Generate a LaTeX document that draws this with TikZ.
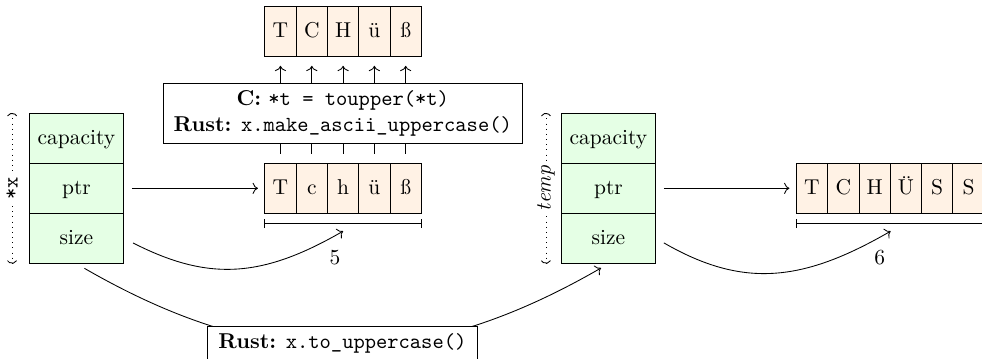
\documentclass[tikz,border=0pt]{standalone}
\usetikzlibrary{arrows.meta, calc}

\begin{document}
\begin{tikzpicture}[
    cell/.style={draw, fill=orange!10, minimum width=0.512cm, minimum height=0.8175cm,
      inner sep=0pt, text height=1.6ex, text depth=0.25ex},
    field/.style={draw, fill=green!10, minimum width=1.537cm, minimum height=0.8175cm,
      inner sep=0pt, text height=1.6ex, text depth=0.25ex},
    codebox/.style={draw, fill=white, align=center, inner xsep=5pt, inner ysep=3.3pt},
    span/.style={{Bar[width=4pt]}-{Bar[width=4pt]}},
    owner/.style={dotted, {Parenthesis}-{Parenthesis}},
  ]
  \useasboundingbox (0,0) rectangle (16.06,5.87);
  \clip (0,0) rectangle (16.06,5.87);

  % String x on the stack
  \node[field] (xcap) at (1.25, 3.608) {capacity};
  \node[field] (xptr) at (1.25, 2.79) {ptr};
  \node[field] (xsize) at (1.25, 1.973) {size};
  \draw[owner] ($(xcap.north west)+(-0.277,0)$) -- ($(xsize.south west)+(-0.277,0)$)
    node[midway, fill=white, rotate=90, inner sep=1.5pt] (xname) {\texttt{*x}};

  % String temp on the stack
  \node[field] (tcap) at (9.951, 3.608) {capacity};
  \node[field] (tptr) at (9.951, 2.79) {ptr};
  \node[field] (tsize) at (9.951, 1.973) {size};
  \draw[owner] ($(tcap.north west)+(-0.247,0)$) -- ($(tsize.south west)+(-0.247,0)$)
    node[midway, fill=white, rotate=90, inner sep=2pt] (tname) {\textit{temp}};

  % heap buffers
  \foreach \letter [count=\i] in {T,c,h,ü,ß}
    \node[cell] (lo\i) at ({4.075+0.512*\i}, 2.79) {\letter};
  \foreach \letter [count=\i] in {T,C,H,ü,ß}
    \node[cell] (up\i) at ({4.075+0.512*\i}, 5.357) {\letter};
  \foreach \letter [count=\i] in {T,C,H,Ü,S,S}
    \node[cell] (new\i) at ({12.767+0.512*\i}, 2.79) {\letter};

  % pointers
  \draw[->, shorten <=3.7pt, shorten >=3pt] (xptr) -- (lo1);
  \draw[->, shorten <=3.7pt, shorten >=3pt] (tptr) -- (new1);

  % lengths
  \draw[span] ($(lo1.south west)+(0,-0.164)$) -- ($(lo5.south east)+(0,-0.164)$);
  \coordinate (len1) at ($(lo3.south)+(0,-0.285)$);
  \node (five) at (5.477, 1.651) {5};
  \draw[->, shorten <=4.8pt] (xsize.east) to[out=-27, in=-150, looseness=1.1] (len1);

  \draw[span] ($(new1.south west)+(0,-0.164)$) -- ($(new6.south east)+(0,-0.164)$);
  \coordinate (len2) at ($(new3.south east)+(0,-0.285)$);
  \node (six) at (14.388, 1.651) {6};
  \draw[->, shorten <=4.3pt] (tsize.east) to[out=-30, in=-150, looseness=1.1] (len2);

  % in place
  \foreach \i in {1,...,5}
    \draw[->, shorten <=4.2pt, shorten >=4.2pt] (lo\i) -- (up\i);
  \node[codebox] (inplace) at (5.606, 4.016)
    {\textbf{C:} \texttt{*t = toupper(*t)}\\ \textbf{Rust:} \texttt{x.make\_ascii\_uppercase()}};

  % copy
  \draw[->, shorten <=0.15cm, shorten >=0.14cm] (xsize.south)
    to[out=-30, in=-150, looseness=1.06] (tsize.south);
  \node[codebox, anchor=north] (copy) at (5.6, 0.544)
    {\textbf{Rust:} \texttt{x.to\_uppercase()}};
\end{tikzpicture}
\end{document}
